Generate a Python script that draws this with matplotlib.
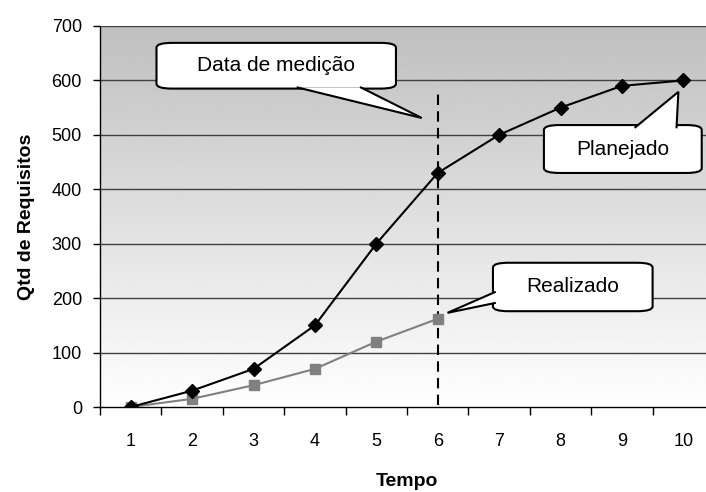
import numpy as np
import matplotlib
matplotlib.use('Agg')
import matplotlib.pyplot as plt
from matplotlib.patches import FancyBboxPatch, Polygon

plt.rcParams['font.family'] = ['Liberation Sans', 'DejaVu Sans']

#%% Dados
tempo      = [1, 2, 3, 4, 5, 6, 7, 8, 9, 10]
planejado  = [0, 30, 70, 150, 300, 430, 500, 550, 590, 600]
tempo_real = [1, 2, 3, 4, 5, 6]
realizado  = [0, 15, 40, 70, 120, 162]
yticks     = [0, 100, 200, 300, 400, 500, 600, 700]
data_medicao = 6

fig = plt.figure(figsize=(7.06, 4.92), dpi=100)
ax = fig.add_axes([100/706, 85/492, 614/706, 381/492])

# fundo em gradiente (cinza no topo -> branco embaixo)
grad = np.linspace(0.75, 1.0, 256).reshape(-1, 1)
ax.imshow(grad, cmap='gray', vmin=0, vmax=1, aspect='auto',
          extent=[0, 1, 0, 1], transform=ax.transAxes, zorder=0)

ax.set_xlim(0.5, 10.5)
ax.set_ylim(0, 700)
for y in yticks[1:]:
    ax.axhline(y, color='#404040', lw=1, zorder=1)

ax.axvline(data_medicao, ymin=0.005, ymax=585/700, color='black', lw=1.5,
           ls=(0, (5, 3)), zorder=2)

ax.plot(tempo_real, realizado, color='#808080', lw=1.5, marker='s', ms=7.5,
        mfc='#808080', mec='#808080', zorder=3)
ax.plot(tempo, planejado, color='black', lw=1.5, marker='D', ms=7.5,
        mfc='black', mec='black', zorder=4)


def callout(x0, y0, x1, y1, base, tip, text):
    box = FancyBboxPatch((x0, y0), x1 - x0, y1 - y0,
                         boxstyle='round,pad=0,rounding_size=0.25',
                         mutation_aspect=35, fc='white', ec='black',
                         lw=1.5, zorder=6)
    ax.add_patch(box)
    ax.add_patch(Polygon([base[0], tip, base[1]], closed=True, fc='white',
                         ec='none', zorder=7))
    ax.plot([base[0][0], tip[0], base[1][0]], [base[0][1], tip[1], base[1][1]],
            color='black', lw=1.5, zorder=8, solid_joinstyle='miter')
    ax.text((x0 + x1) / 2, (y0 + y1) / 2, text, ha='center', va='center',
            fontsize=15, zorder=9)


callout(1.42, 585, 5.32, 669, [(3.72, 587), (4.75, 587)], (5.74, 531),
        'Data de medição')
callout(7.73, 430, 10.3, 518, [(9.22, 514), (9.89, 514)], (9.92, 579),
        'Planejado')
callout(6.9, 176, 9.5, 265, [(6.93, 211), (6.93, 191)], (6.16, 173),
        'Realizado')

for s in ['top', 'right']:
    ax.spines[s].set_visible(False)
ax.spines['left'].set_linewidth(1)
ax.spines['bottom'].set_linewidth(1)

ax.set_yticks(yticks)
ax.set_xticks(tempo)
ax.set_xticks(np.arange(0.5, 11, 1), minor=True)
ax.tick_params(axis='y', length=5, width=1, pad=8, labelsize=13)
ax.tick_params(axis='x', which='major', length=0, pad=19, labelsize=13)
ax.tick_params(axis='x', which='minor', length=6, width=1)

ax.set_ylabel('Qtd de Requisitos', fontsize=14, fontweight='bold', labelpad=12)
ax.set_xlabel('Tempo', fontsize=14, fontweight='bold', labelpad=16)

fig.savefig('out.png', dpi=100)
